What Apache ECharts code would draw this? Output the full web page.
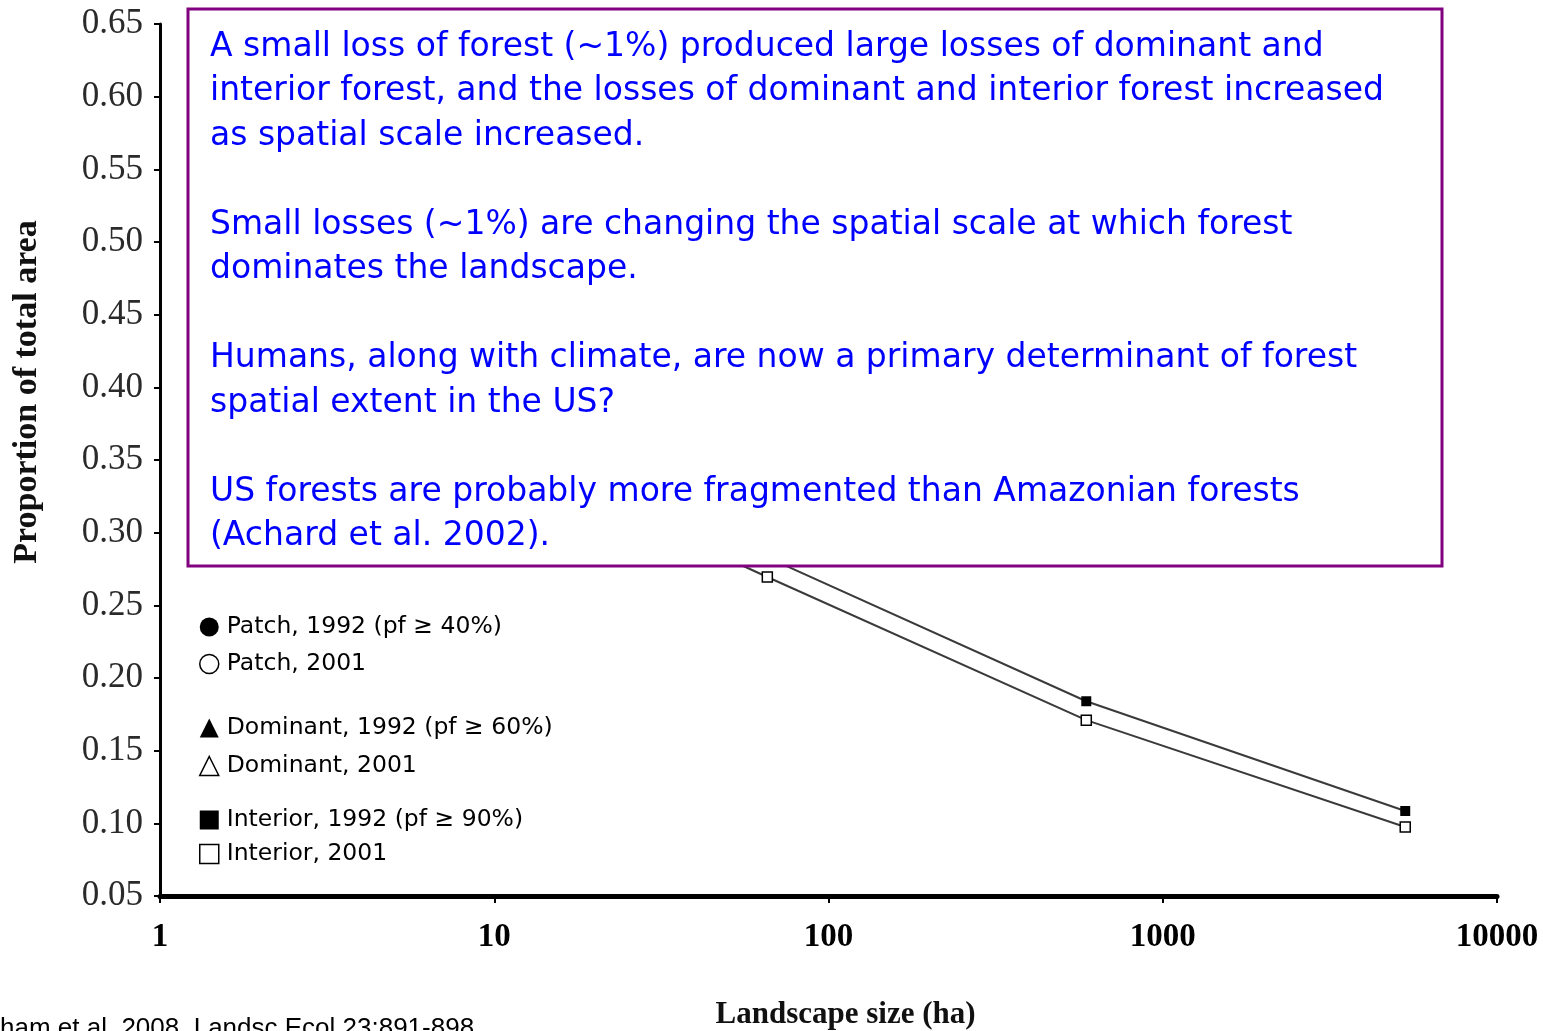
<!DOCTYPE html>
<html>
<head>
<meta charset="utf-8">
<script src="https://cdn.jsdelivr.net/npm/echarts@6/dist/echarts.min.js"></script>
<style>
html,body{margin:0;padding:0;background:#fff;}
#chart{width:1543px;height:1031px;}
</style>
</head>
<body>
<div id="chart"></div>
<script>
// landscape sizes (ha): 9x9, 27x27, 81x81, 243x243 windows of 30 m pixels
var landscapeSizes = [7.29, 65.61, 590.49, 5314.41];
// patch and dominant values sit behind the text box, estimated
var patch1992 = [0.62, 0.60, 0.58, 0.57];
var patch2001 = [0.61, 0.59, 0.57, 0.56];
var dominant1992 = [0.52, 0.47, 0.42, 0.38];
var dominant2001 = [0.51, 0.455, 0.40, 0.36];
var interior1992 = [0.38, 0.283, 0.184, 0.1085];
var interior2001 = [0.37, 0.2695, 0.171, 0.0975];

var xTicks = [1, 10, 100, 1000, 10000];

var noteText = 'A small loss of forest (~1%) produced large losses of dominant and\n' +
	'interior forest, and the losses of dominant and interior forest increased\n' +
	'as spatial scale increased.\n\n' +
	'Small losses (~1%) are changing the spatial scale at which forest\n' +
	'dominates the landscape.\n\n' +
	'Humans, along with climate, are now a primary determinant of forest\n' +
	'spatial extent in the US?\n\n' +
	'US forests are probably more fragmented than Amazonian forests\n' +
	'(Achard et al. 2002).';

var sansFont = "'DejaVu Sans', sans-serif";
var serifFont = "'Liberation Serif', 'DejaVu Serif', serif";

function pairs(vals){
	var out = [];
	for (var i = 0; i < vals.length; i++) {
		out.push([landscapeSizes[i], vals[i]]);
	}
	return out;
}

function makeSeries(name, vals, symbol, filled){
	return {
		name: name,
		type: 'line',
		data: pairs(vals),
		symbol: symbol,
		symbolSize: 10,
		lineStyle: { color: '#3a3a3a', width: 2 },
		itemStyle: filled ? { color: '#000' } : { color: '#fff', borderColor: '#000', borderWidth: 1.5 },
		z: 3
	};
}

function legendItem(name, icon, filled){
	return {
		name: name,
		icon: icon,
		itemStyle: filled ? { color: '#000', borderWidth: 0 } : { color: '#fff', borderColor: '#000', borderWidth: 1.5 }
	};
}

function makeLegend(top, gap, items){
	return {
		orient: 'vertical',
		left: 199,
		top: top,
		padding: 0,
		itemGap: gap,
		itemWidth: 19,
		itemHeight: 19,
		selectedMode: false,
		textStyle: { fontFamily: sansFont, fontSize: 23.5, color: '#000', lineHeight: 22, padding: [0, 0, 0, 3] },
		data: items
	};
}

var names = {
	p92: 'Patch, 1992 (pf \u2265 40%)',
	p01: 'Patch, 2001',
	d92: 'Dominant, 1992 (pf \u2265 60%)',
	d01: 'Dominant, 2001',
	i92: 'Interior, 1992 (pf \u2265 90%)',
	i01: 'Interior, 2001'
};

var myChart = echarts.init(document.getElementById('chart'));
var option = {
	animation: false,
	backgroundColor: '#fff',
	grid: { left: 160, right: 46, top: 24, bottom: 135, outerBoundsMode: 'none' },
	legend: [
		makeLegend(615, 13, [legendItem(names.p92, 'circle', true), legendItem(names.p01, 'circle', false)]),
		makeLegend(716, 14, [legendItem(names.d92, 'triangle', true), legendItem(names.d01, 'triangle', false)]),
		makeLegend(808, 10, [legendItem(names.i92, 'rect', true), legendItem(names.i01, 'rect', false)])
	],
	xAxis: {
		type: 'log',
		logBase: 10,
		min: xTicks[0],
		max: xTicks[xTicks.length - 1],
		name: 'Landscape size (ha)',
		nameLocation: 'middle',
		nameGap: 103,
		nameTextStyle: { fontFamily: serifFont, fontWeight: 'bold', fontSize: 31, color: '#111', padding: [0, 0, 0, 34] },
		axisLine: { lineStyle: { color: '#000', width: 5 } },
		axisTick: { length: 7, lineStyle: { color: '#000', width: 2 } },
		axisLabel: {
			fontFamily: serifFont, fontWeight: 'bold', fontSize: 33, color: '#000', margin: 25,
			formatter: function (v) { return String(Math.round(v)); }
		},
		splitLine: { show: false }
	},
	yAxis: {
		type: 'value',
		min: 0.05,
		max: 0.65,
		interval: 0.05,
		axisLine: { show: true, lineStyle: { color: '#000', width: 3 } },
		axisTick: { show: true, length: 6, lineStyle: { color: '#000', width: 2 } },
		axisLabel: {
			fontFamily: serifFont, fontSize: 35, color: '#2a2a2a', margin: 17,
			formatter: function (v) { return v.toFixed(2); }
		},
		splitLine: { show: false }
	},
	series: [
		makeSeries(names.p92, patch1992, 'circle', true),
		makeSeries(names.p01, patch2001, 'circle', false),
		makeSeries(names.d92, dominant1992, 'triangle', true),
		makeSeries(names.d01, dominant2001, 'triangle', false),
		makeSeries(names.i92, interior1992, 'rect', true),
		makeSeries(names.i01, interior2001, 'rect', false)
	],
	graphic: [
		{
			type: 'rect',
			z: 100,
			shape: { x: 188, y: 9, width: 1254, height: 557 },
			style: { fill: '#fff', stroke: '#800080', lineWidth: 3 }
		},
		{
			type: 'text',
			z: 101,
			x: 210,
			y: 25,
			style: {
				text: noteText,
				fill: '#0000ff',
				fontFamily: sansFont,
				fontSize: 33,
				lineHeight: 44.5,
				verticalAlign: 'top'
			}
		},
		{
			type: 'text',
			x: 27,
			y: 392,
			rotation: Math.PI / 2,
			style: {
				text: 'Proportion of total area',
				fill: '#111',
				fontFamily: serifFont,
				fontWeight: 'bold',
				fontSize: 34,
				align: 'center',
				verticalAlign: 'middle'
			}
		},
		{
			type: 'text',
			x: 0,
			y: 1016,
			style: {
				text: 'ham et al. 2008, Landsc Ecol 23:891-898',
				fill: '#000',
				fontFamily: "'Liberation Sans', Arial, sans-serif",
				fontSize: 26,
				verticalAlign: 'top'
			}
		}
	]
};
myChart.setOption(option, true);
</script>
</body>
</html>
